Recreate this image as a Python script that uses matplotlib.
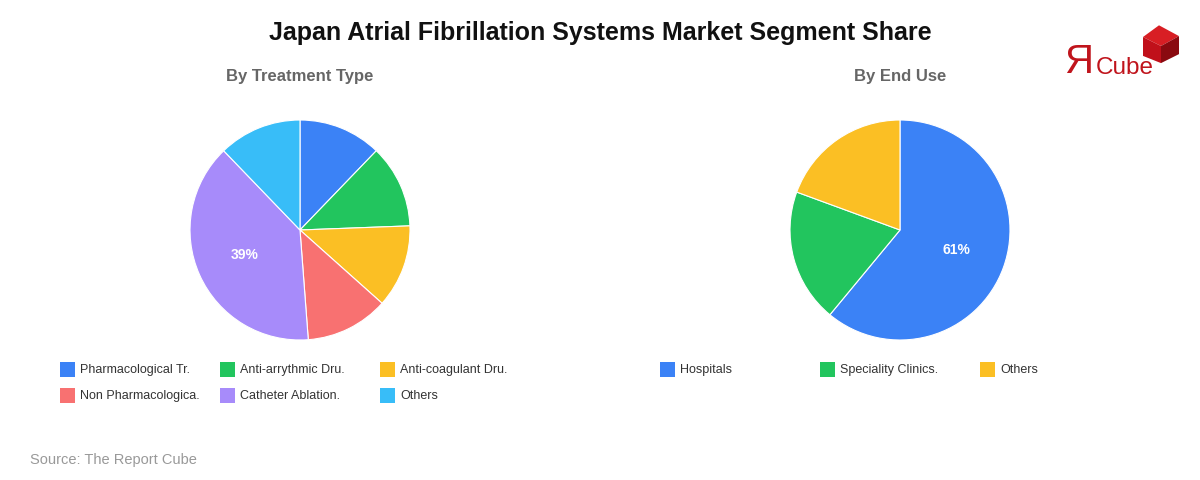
import matplotlib
matplotlib.use("Agg")
import matplotlib.pyplot as plt
from matplotlib.patches import Rectangle, Polygon

plt.rcParams['font.family'] = ['Liberation Sans', 'DejaVu Sans']

title = "Japan Atrial Fibrillation Systems Market Segment Share"
source = "Source: The Report Cube"

treat_title = "By Treatment Type"
treat_labels = ["Pharmacological Tr.", "Anti-arrythmic Dru.", "Anti-coagulant Dru.",
                "Non Pharmacologica.", "Catheter Ablation.", "Others"]
treat_values = [12.2, 12.2, 12.2, 12.2, 39.0, 12.2]
treat_colors = ["#3B82F6", "#22C55E", "#FBBF24", "#F87171", "#A78BFA", "#38BDF8"]

use_title = "By End Use"
use_labels = ["Hospitals", "Speciality Clinics.", "Others"]
use_values = [61.0, 19.6, 19.4]
use_colors = ["#3B82F6", "#22C55E", "#FBBF24"]

W, H = 1200, 480
fig = plt.figure(figsize=(12, 4.8), dpi=100)
fig.patch.set_facecolor("white")

def px(x, y):
    return x / W, 1 - y / H

def pie_panel(cx, cy, r, values, colors, sub, labels, leg_x0):
    ax = fig.add_axes([(cx - r) / W, (H - cy - r) / H, 2 * r / W, 2 * r / H])
    ax.pie(values, colors=colors, startangle=90, counterclock=False,
           wedgeprops=dict(edgecolor="white", linewidth=0.8),
           autopct=lambda p: f"{p:.0f}%" if p >= 30 else "",
           pctdistance=0.55,
           textprops=dict(color="white", fontsize=10, fontweight="bold"))
    ax.set_xlim(-1.0, 1.0)
    ax.set_ylim(-1.0, 1.0)
    ax.set_aspect("equal")
    ax.axis("off")
    fig.text(*px(cx, 77), sub, ha="center", va="center", fontsize=12,
             fontweight="bold", color="#666666")
    for i, (lab, col) in enumerate(zip(labels, colors)):
        row, colm = divmod(i, 3)
        x = leg_x0 + colm * 160
        y = 369 + row * 26
        fig.add_artist(Rectangle(px(x, y + 7.5), 15 / W, 15 / H,
                                 transform=fig.transFigure, facecolor=col,
                                 edgecolor="none"))
        fig.text(*px(x + 20, y + 1), lab, ha="left", va="center", fontsize=9,
                 color="#333333")

pie_panel(300, 230, 110, treat_values, treat_colors, treat_title, treat_labels, 60)
pie_panel(900, 230, 110, use_values, use_colors, use_title, use_labels, 660)

fig.text(*px(600, 33), title, ha="center", va="center", fontsize=18,
         fontweight="bold", color="#111111")
fig.text(*px(30, 460), source, ha="left", va="center", fontsize=10.5,
         color="#999999")

# logo
red = "#C0141C"
fig.text(*px(1064, 62), "Я", ha="left", va="center", fontsize=29, color=red)
fig.text(*px(1096, 68), "Cube", ha="left", va="center", fontsize=17.5, color=red)
cxl, cyl, s = 1161, 46, 18
top = [(cxl, cyl), (cxl - s, cyl - s * 0.5), (cxl - 2, cyl - s * 1.15), (cxl + s, cyl - s * 0.55)]
left = [(cxl, cyl), (cxl - s, cyl - s * 0.5), (cxl - s, cyl + s * 0.55), (cxl, cyl + s * 0.95)]
right = [(cxl, cyl), (cxl + s, cyl - s * 0.55), (cxl + s, cyl + s * 0.45), (cxl, cyl + s * 0.95)]
for pts, c in [(top, "#D81E24"), (left, "#C0101A"), (right, "#8A0A10")]:
    fig.add_artist(Polygon([px(a, b) for a, b in pts], closed=True,
                           transform=fig.transFigure, facecolor=c, edgecolor="none"))

fig.savefig("out.png", dpi=100, facecolor="white")
